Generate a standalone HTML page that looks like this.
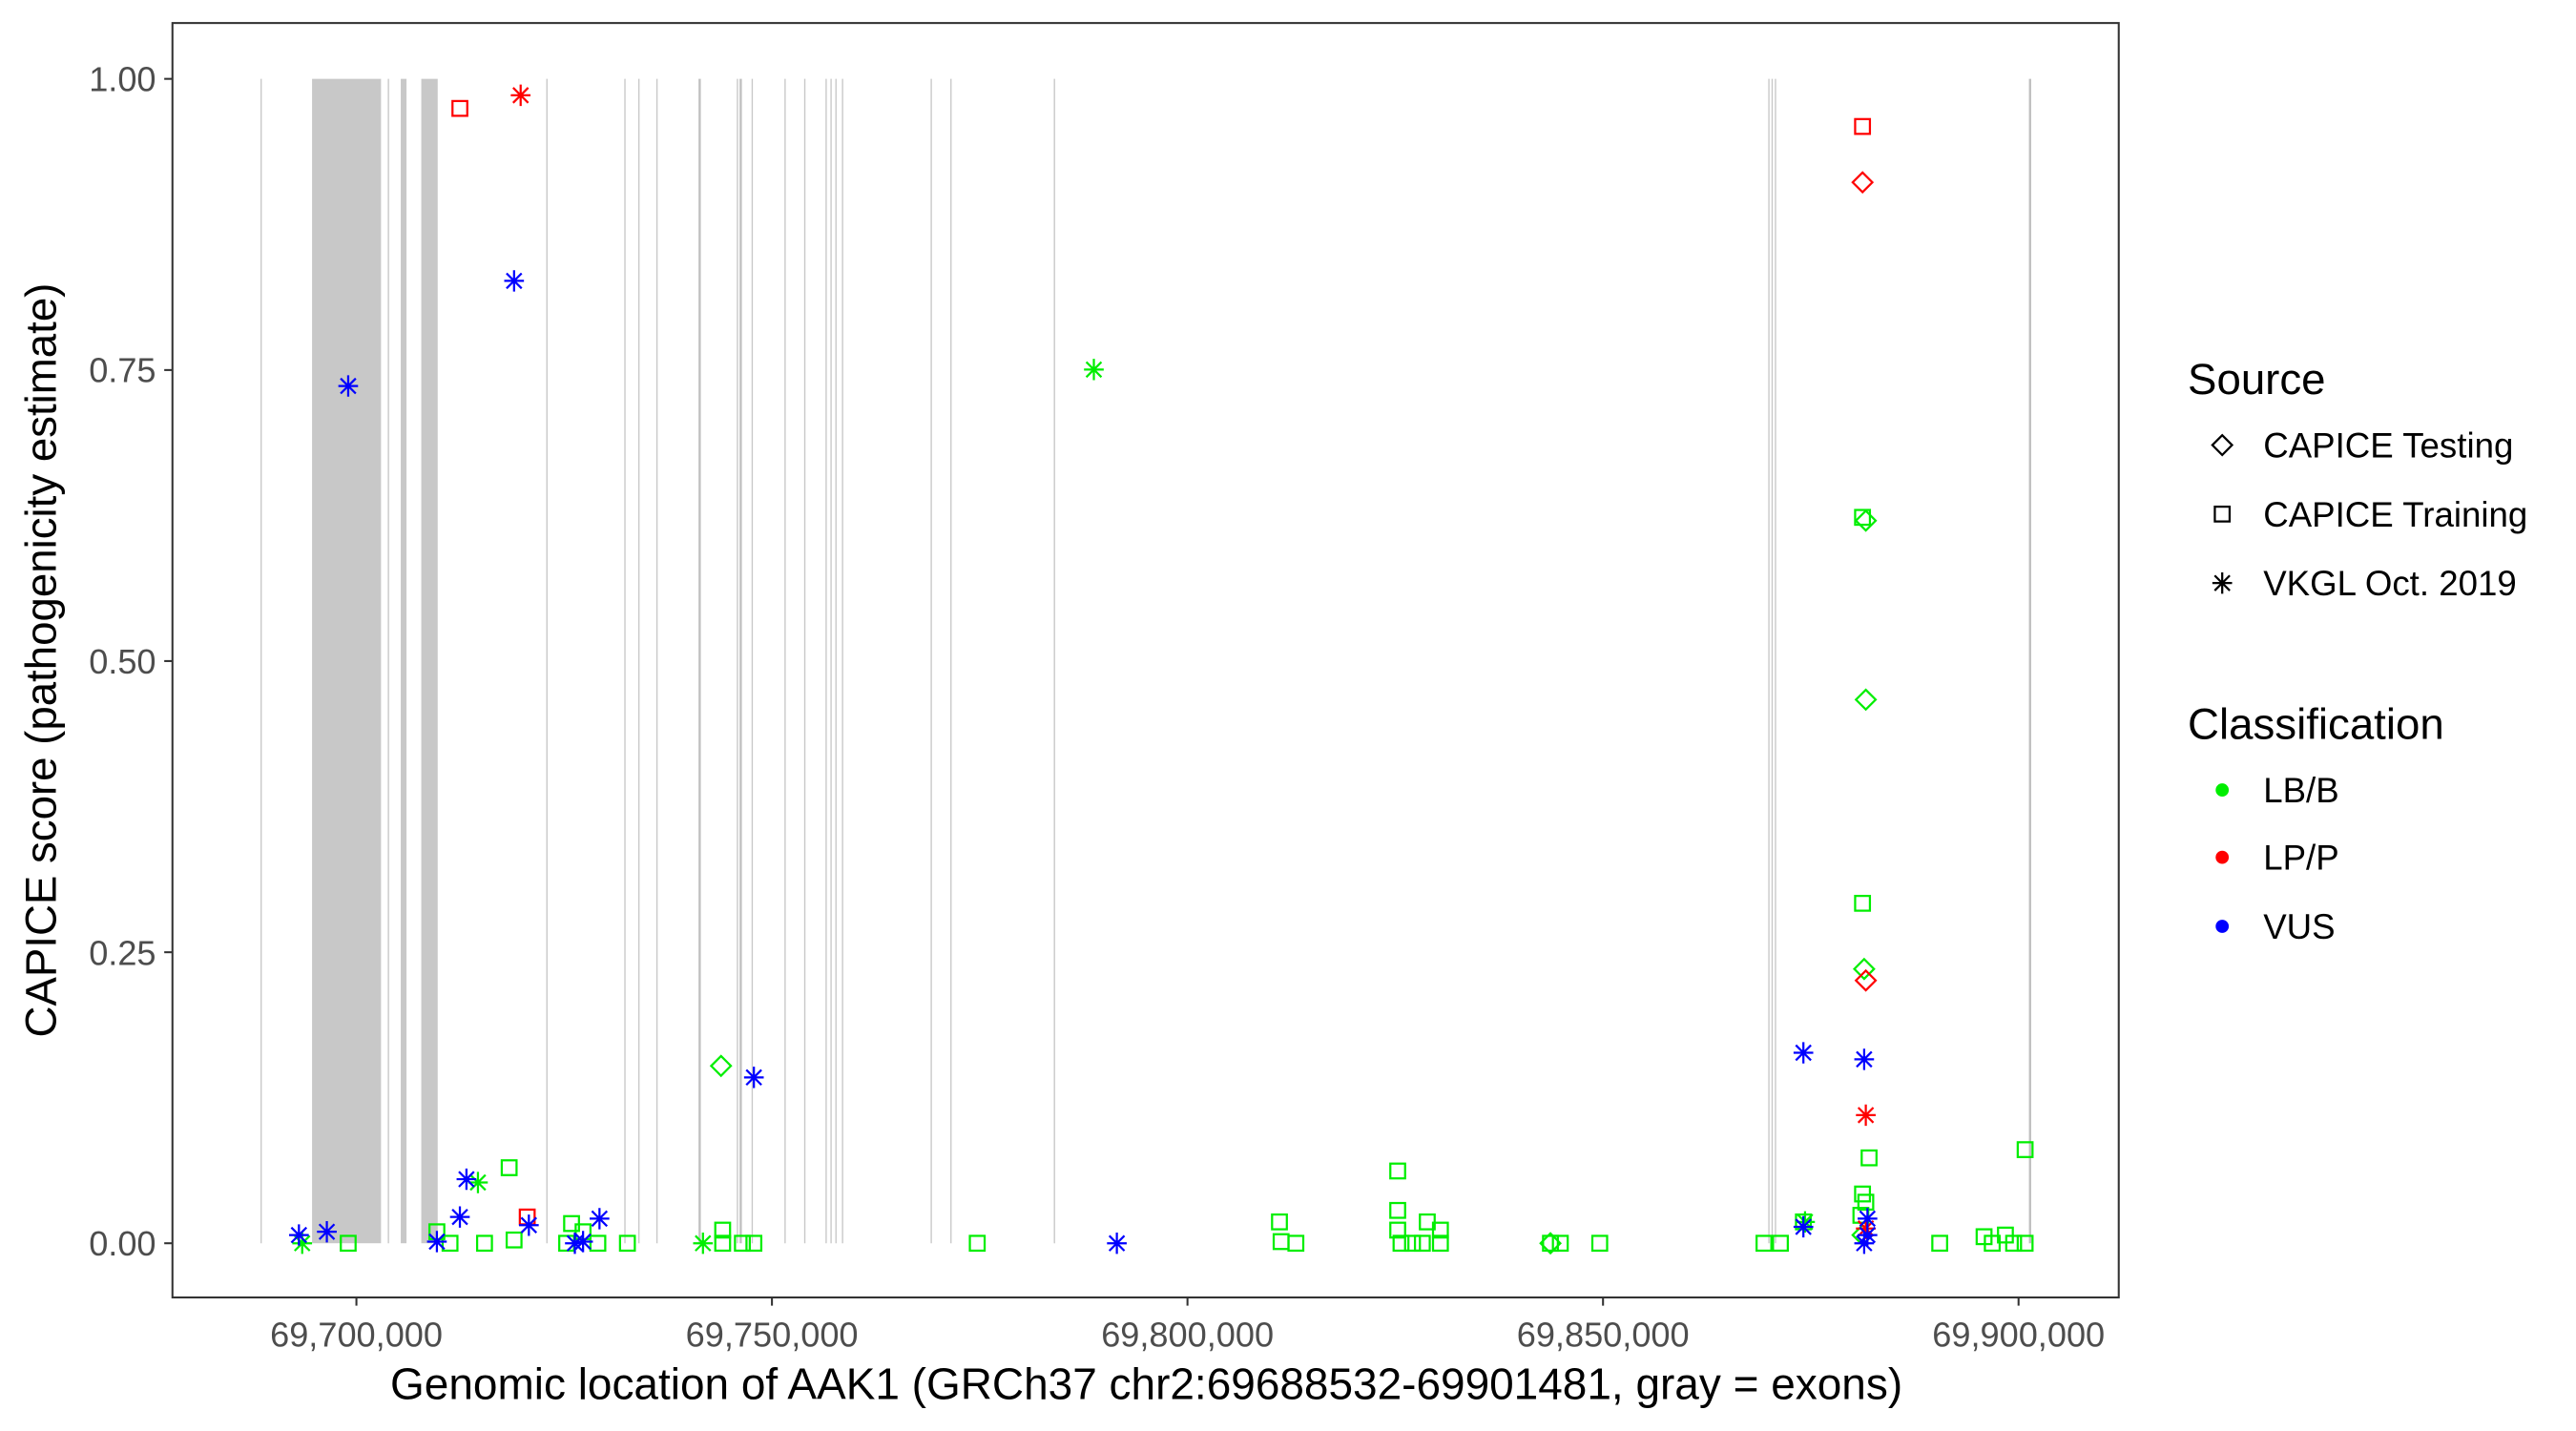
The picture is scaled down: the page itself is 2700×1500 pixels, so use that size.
<!DOCTYPE html>
<html><head><meta charset="utf-8"><style>html,body{margin:0;padding:0;background:#fff}svg{display:block}</style></head><body>
<svg width="2700" height="1500" viewBox="0 0 1568.4 871.3" xmlns="http://www.w3.org/2000/svg" font-family="Liberation Sans, sans-serif">
<defs>
<g id="sq"><rect x="-4.5" y="-4.5" width="9" height="9" fill="none" stroke-width="1.3"/></g>
<g id="di"><path d="M0,-6 L6,0 L0,6 L-6,0 Z" fill="none" stroke-width="1.3"/></g>
<g id="st"><path d="M0,-6.5V6.5M-6,0H6M-4.6,-4.6L4.6,4.6M-4.6,4.6L4.6,-4.6" fill="none" stroke-width="1.3"/></g>
</defs>
<rect x="105" y="14" width="1185" height="776" fill="#fff" stroke="#333" stroke-width="1.2"/>
<g stroke="#c8c8c8" stroke-width="0.8">
<line x1="159" y1="48" x2="159" y2="757"/><line x1="236.5" y1="48" x2="236.5" y2="757"/>
<line x1="333" y1="48" x2="333" y2="757"/><line x1="380.5" y1="48" x2="380.5" y2="757"/>
<line x1="389" y1="48" x2="389" y2="757"/><line x1="400" y1="48" x2="400" y2="757"/>
<line x1="449" y1="48" x2="449" y2="757"/><line x1="458" y1="48" x2="458" y2="757"/>
<line x1="478" y1="48" x2="478" y2="757"/><line x1="490" y1="48" x2="490" y2="757"/>
<line x1="503" y1="48" x2="503" y2="757"/><line x1="506" y1="48" x2="506" y2="757"/>
<line x1="509" y1="48" x2="509" y2="757"/><line x1="513" y1="48" x2="513" y2="757"/>
<line x1="567" y1="48" x2="567" y2="757"/><line x1="579" y1="48" x2="579" y2="757"/>
<line x1="642" y1="48" x2="642" y2="757"/><line x1="1077" y1="48" x2="1077" y2="757"/>
<line x1="1079" y1="48" x2="1079" y2="757"/><line x1="1081" y1="48" x2="1081" y2="757"/>
</g>
<g stroke="#c0c0c0" stroke-width="1.4"><line x1="426" y1="48" x2="426" y2="757"/><line x1="1236" y1="48" x2="1236" y2="757"/><line x1="451" y1="48" x2="451" y2="757"/></g>
<g fill="#c8c8c8"><rect x="190" y="48" width="42" height="709"/><rect x="244" y="48" width="3.5" height="709"/><rect x="256.5" y="48" width="10" height="709"/></g>
<g stroke="#333" stroke-width="1.2"><line x1="100" y1="48" x2="105" y2="48"/><line x1="100" y1="225.3" x2="105" y2="225.3"/><line x1="100" y1="402.5" x2="105" y2="402.5"/><line x1="100" y1="579.8" x2="105" y2="579.8"/><line x1="100" y1="757" x2="105" y2="757"/>
<line x1="217" y1="790" x2="217" y2="795"/><line x1="470" y1="790" x2="470" y2="795"/><line x1="723" y1="790" x2="723" y2="795"/><line x1="976" y1="790" x2="976" y2="795"/><line x1="1229" y1="790" x2="1229" y2="795"/></g>
<g fill="#4d4d4d" font-size="21" text-anchor="end"><text x="95" y="55.5">1.00</text><text x="95" y="232.5">0.75</text><text x="95" y="410">0.50</text><text x="95" y="587.5">0.25</text><text x="95" y="764.5">0.00</text></g>
<g fill="#4d4d4d" font-size="21" text-anchor="middle"><text x="217" y="820">69,700,000</text><text x="470" y="820">69,750,000</text><text x="723" y="820">69,800,000</text><text x="976" y="820">69,850,000</text><text x="1229" y="820">69,900,000</text></g>
<text x="698" y="852" font-size="26.7" text-anchor="middle">Genomic location of AAK1 (GRCh37 chr2:69688532-69901481, gray = exons)</text>
<text transform="translate(34,402) rotate(-90)" font-size="26.5" text-anchor="middle">CAPICE score (pathogenicity estimate)</text>
<g stroke="#00ee00" fill="none">
<use href="#sq" x="310" y="711"/><use href="#sq" x="1134" y="315"/><use href="#sq" x="1134" y="550"/><use href="#sq" x="1138" y="705"/><use href="#sq" x="1233" y="700"/><use href="#sq" x="851" y="713"/><use href="#sq" x="851" y="737"/><use href="#sq" x="869" y="744"/><use href="#sq" x="877" y="749"/><use href="#sq" x="779" y="744"/><use href="#sq" x="780" y="756"/><use href="#sq" x="789" y="757"/><use href="#sq" x="853" y="757"/><use href="#sq" x="860" y="757"/><use href="#sq" x="866" y="757"/><use href="#sq" x="877" y="757"/><use href="#sq" x="851" y="749"/><use href="#sq" x="348" y="745"/><use href="#sq" x="355" y="750"/><use href="#sq" x="266" y="750"/><use href="#sq" x="212" y="757"/><use href="#sq" x="274" y="757"/><use href="#sq" x="295" y="757"/><use href="#sq" x="313" y="755"/><use href="#sq" x="345" y="757"/><use href="#sq" x="364" y="757"/><use href="#sq" x="382" y="757"/><use href="#sq" x="440" y="749"/><use href="#sq" x="440" y="757"/><use href="#sq" x="452" y="757"/><use href="#sq" x="459" y="757"/><use href="#sq" x="595" y="757"/><use href="#sq" x="944" y="757"/><use href="#sq" x="950" y="757"/><use href="#sq" x="974" y="757"/><use href="#sq" x="1074" y="757"/><use href="#sq" x="1084" y="757"/><use href="#sq" x="1181" y="757"/><use href="#sq" x="1208" y="753"/><use href="#sq" x="1213" y="757"/><use href="#sq" x="1221" y="752"/><use href="#sq" x="1226" y="757"/><use href="#sq" x="1233" y="757"/><use href="#sq" x="1134" y="727"/><use href="#sq" x="1136" y="732"/><use href="#sq" x="1133" y="740"/><use href="#sq" x="1098" y="744"/>
<use href="#di" x="439" y="649"/><use href="#di" x="1136" y="317"/><use href="#di" x="1136" y="426"/><use href="#di" x="1135" y="590"/><use href="#di" x="944" y="757"/><use href="#di" x="1134" y="752"/>
<use href="#st" x="666" y="225"/><use href="#st" x="291" y="720"/><use href="#st" x="184" y="757"/><use href="#st" x="428" y="757"/><use href="#st" x="1099" y="744"/>
</g>
<g stroke="#ff0000" fill="none">
<use href="#sq" x="280" y="66"/><use href="#st" x="317" y="58"/><use href="#sq" x="1134" y="77"/><use href="#di" x="1134" y="111"/><use href="#di" x="1136" y="597"/><use href="#st" x="1136" y="679"/><use href="#sq" x="321" y="741"/><use href="#st" x="1136" y="748"/>
</g>
<g stroke="#0000ff" fill="none">
<use href="#st" x="212" y="235"/><use href="#st" x="313" y="171"/><use href="#st" x="284" y="718"/><use href="#st" x="280" y="741"/><use href="#st" x="322" y="746"/><use href="#st" x="365" y="742"/><use href="#st" x="182" y="752"/><use href="#st" x="199" y="750"/><use href="#st" x="266" y="756"/><use href="#st" x="355" y="756"/><use href="#st" x="350" y="757"/><use href="#st" x="459" y="656"/><use href="#st" x="680" y="757"/><use href="#st" x="1098" y="641"/><use href="#st" x="1135" y="645"/><use href="#st" x="1098" y="747"/><use href="#st" x="1137" y="742"/><use href="#st" x="1135" y="757"/><use href="#st" x="1137" y="752"/>
</g>
<text x="1332" y="240" font-size="26.5">Source</text>
<g stroke="#000" fill="none"><use href="#di" x="1353" y="271"/><use href="#sq" x="1353" y="313"/><use href="#st" x="1353" y="355"/></g>
<g font-size="21.3"><text x="1378" y="278.5">CAPICE Testing</text><text x="1378" y="320.5">CAPICE Training</text><text x="1378" y="362.5">VKGL Oct. 2019</text></g>
<text x="1332" y="450" font-size="26.5">Classification</text>
<circle cx="1353" cy="481" r="4" fill="#00ee00"/><circle cx="1353" cy="522" r="4" fill="#ff0000"/><circle cx="1353" cy="564" r="4" fill="#0000ff"/>
<g font-size="21.3"><text x="1378" y="488.5">LB/B</text><text x="1378" y="529.5">LP/P</text><text x="1378" y="571.5">VUS</text></g>
</svg>
</body></html>
